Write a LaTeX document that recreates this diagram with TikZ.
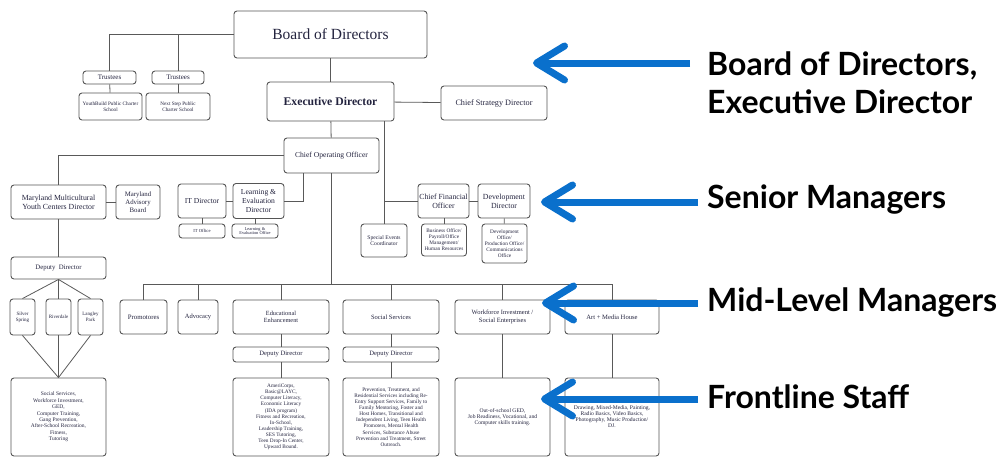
\documentclass[tikz,border=0pt]{standalone}
\usepackage{fontspec}
\setmainfont{Liberation Serif}
\newfontfamily\tierfont{Lato}
\usetikzlibrary{arrows.meta,positioning}
\definecolor{boxline}{RGB}{85,85,85}
\definecolor{boxtext}{RGB}{35,35,62}
\definecolor{pointer}{RGB}{10,112,204}
\tikzset
{
    orgbox/.style 2 args = {rectangle, rounded corners=3pt, draw=boxline, line width=0.9pt, align=center, text=boxtext, inner sep=1pt, minimum width=#1, minimum height=#2},
    sz/.style 2 args     = {font=\fontsize{#1}{#2}\selectfont},
    link/.style          = {draw=black!65, line width=0.8pt},
    hv/.style            = {to path={-| (\tikztotarget)}},
    vh/.style            = {to path={|- (\tikztotarget)}},
    tier/.style          = {anchor=west, align=left, inner sep=0pt, font=\tierfont\bfseries\fontsize{32}{38}\selectfont},
    pointer/.style       = {draw=pointer, line width=7pt, -{Straight Barb[length=28pt,width=34pt,round]}}
}

\begin{document}
\begin{tikzpicture}[x=1pt, y=-1pt]
   \useasboundingbox (0,0) rectangle (1001,461);

   %% top: board, trustees, executive
   \node (board)     [orgbox={193pt}{47pt}, sz={15.5}{18}]   at (330.5, 34.5)  {Board of Directors};
   \node (trusteeA)  [orgbox={53pt}{13pt},  sz={7}{8}]       at (109.5, 77.5)  {Trustees};
   \node (trusteeB)  [orgbox={52pt}{13pt},  sz={7}{8}]       at (178, 77.5)    {Trustees};
   \node (schoolA)   [orgbox={63pt}{27pt},  sz={5.2}{6}]     at (110.5, 106.5) {YouthBuild Public Charter\\School};
   \node (schoolB)   [orgbox={64pt}{27pt},  sz={5.2}{6}]     at (178, 106.5)   {Next Step Public\\Charter School};
   \node (exec)      [orgbox={127pt}{39pt}, sz={11.7}{14}]   at (330.5, 101.5) {\bfseries Executive Director};
   \node (strategy)  [orgbox={106pt}{34pt}, sz={8.2}{10}]    at (494, 103)     {Chief Strategy Director};
   \node (coo)       [orgbox={95pt}{35pt},  sz={7.6}{9}]     at (331.5, 155.5) {Chief Operating Officer};

   %% senior managers
   \node (mmyc)      [orgbox={95pt}{34pt},  sz={7.8}{9}]     at (58.5, 202)    {Maryland Multicultural\\Youth Centers Director};
   \node (advisory)  [orgbox={44pt}{34pt},  sz={6.8}{7.8}]   at (138, 202)     {Maryland\\Advisory\\Board};
   \node (itdir)     [orgbox={48pt}{34pt},  sz={7.6}{9}]     at (202, 201)     {IT Director};
   \node (led)       [orgbox={51pt}{35pt},  sz={7.6}{8.6}]   at (258.5, 201)   {Learning \&\\Evaluation\\Director};
   \node (itoffice)  [orgbox={46pt}{14pt},  sz={4.6}{5}]     at (202, 231)     {IT Office};
   \node (leoffice)  [orgbox={46pt}{14pt},  sz={4.4}{4.8}]   at (255, 231)     {Learning \&\\Evaluation Office};
   \node (cfo)       [orgbox={51pt}{34pt},  sz={7.8}{9}]     at (443.5, 201)   {Chief Financial\\Officer};
   \node (devdir)    [orgbox={52pt}{34pt},  sz={7.8}{9}]     at (504, 201)     {Development\\Director};
   \node (special)   [orgbox={46pt}{33pt},  sz={5.6}{6.2}]   at (384, 240.5)   {Special Events\\Coordinator};
   \node (business)  [orgbox={45pt}{32pt},  sz={5.3}{5.9}]   at (444, 240)     {Business Office/\\Payroll/Office\\Management/\\Human Resources};
   \node (devoffice) [orgbox={45pt}{39pt},  sz={5.3}{5.9}]   at (504.5, 243.5) {Development\\Office/\\Production Office/\\Communications\\Office};

   %% youth centers column
   \node (deputyL)   [orgbox={95pt}{22pt},  sz={6.8}{8}]     at (58.5, 268)    {Deputy\ \ Director};
   \node (silver)    [orgbox={25pt}{36pt},  sz={5}{5.8}]     at (22.5, 317)    {Silver\\Spring};
   \node (riverdale) [orgbox={25pt}{36pt},  sz={5}{5.8}]     at (58.5, 317)    {Riverdale};
   \node (langley)   [orgbox={25pt}{36pt},  sz={5}{5.8}]     at (90.5, 317)    {Langley\\Park};
   \node (bigL)      [orgbox={95pt}{78pt},  sz={5.5}{6.4}]   at (58.5, 417)    {Social Services,\\Workforce Investment,\\GED,\\Computer Training,\\Gang Prevention,\\After-School Recreation,\\Fitness,\\Tutoring};

   %% mid-level managers
   \node (promotores)[orgbox={47pt}{34pt},  sz={6.8}{8}]     at (143.5, 317)   {Promotores};
   \node (advocacy)  [orgbox={40pt}{34pt},  sz={6.5}{8}]     at (198, 317)     {Advocacy};
   \node (edu)       [orgbox={96pt}{34pt},  sz={6.3}{7.4}]   at (281, 317)     {Educational\\Enhancement};
   \node (social)    [orgbox={96pt}{34pt},  sz={6.5}{8}]     at (391, 317)     {Social Services};
   \node (workforce) [orgbox={95pt}{34pt},  sz={6.5}{7.6}]   at (502.5, 317)   {Workforce Investment /\\Social Enterprises};
   \node (art)       [orgbox={94pt}{34pt},  sz={6.6}{8}]     at (612, 317)     {Art + Media House};
   \node (deputyE)   [orgbox={96pt}{15pt},  sz={6.6}{8}]     at (281, 354.5)   {Deputy Director};
   \node (deputyS)   [orgbox={96pt}{15pt},  sz={6.6}{8}]     at (391, 354.5)   {Deputy Director};

   %% frontline staff
   \node (eduBig)    [orgbox={96pt}{78pt},  sz={5.3}{6.1}]   at (281, 417)     {AmeriCorps,\\Basic@LAYC,\\Computer Literacy,\\Economic Literacy\\(IDA program)\\Fitness and Recreation,\\In-School,\\Leadership Training,\\SES Tutoring,\\Teen Drop-In Center,\\Upward Bound.};
   \node (socialBig) [orgbox={96pt}{78pt},  sz={5.3}{6.1}]   at (391, 417)     {Prevention, Treatment, and\\Residential Services including Re-\\Entry Support Services, Family to\\Family Mentoring, Foster and\\Host Homes, Transitional and\\Independent Living, Teen Health\\Promoters, Mental Health\\Services, Substance Abuse\\Prevention and Treatment, Street\\Outreach.};
   \node (workBig)   [orgbox={95pt}{78pt},  sz={5.6}{5.8}]   at (502.5, 417)   {Out-of-school GED,\\Job Readiness, Vocational, and\\Computer skills training.};
   \node (artBig)    [orgbox={94pt}{78pt},  sz={5.6}{6}]     at (612, 417)     {Drawing, Mixed-Media, Painting,\\Radio Basics, Video Basics,\\Photography, Music Production/\\DJ.};

   \coordinate (bus) at (331.5, 284);

   \path[link]
      (board.west)                edge[hv]  (trusteeA)
      (board.west)                edge[hv]  (trusteeB)
      (trusteeA)                  edge      (schoolA)
      (trusteeB)                  edge      (schoolB)
      (board)                     edge      (exec)
      (exec)                      edge      (strategy)
      (exec)                      edge      (coo)
      (exec.south -| special)     edge      (special)
      (cfo.west)                  edge      (cfo.west -| special)
      (cfo)                       edge      (devdir)
      (business.north)            edge      (business.north |- cfo.south)
      (devdir)                    edge      (devoffice)
      (coo.west)                  edge[hv]  (mmyc)
      (mmyc)                      edge      (advisory)
      ([xshift=-28.5pt]coo.south) edge[vh]  (led.east)
      (itdir)                     edge      (led)
      (itdir)                     edge      (itoffice)
      (leoffice.north)            edge      (leoffice.north |- led.south)
      (mmyc)                      edge      (deputyL)
      (deputyL.south)             edge      (silver.north)
      (deputyL)                   edge      (riverdale)
      (deputyL.south)             edge      (langley.north)
      (silver.south)              edge      (bigL.north)
      (riverdale)                 edge      (bigL)
      (langley.south)             edge      (bigL.north)
      (coo)                       edge      (bus)
      (bus)                       edge[hv]  (promotores)
      (bus)                       edge[hv]  (advocacy)
      (bus)                       edge[hv]  (edu)
      (bus)                       edge[hv]  (social)
      (bus)                       edge[hv]  (workforce)
      (bus)                       edge[hv]  (art)
      (edu)                       edge      (deputyE)
      (deputyE)                   edge      (eduBig)
      (social)                    edge      (deputyS)
      (deputyS)                   edge      (socialBig)
      (workforce)                 edge      (workBig)
      (art)                       edge      (artBig);

   %% tiers with pointers
   \node (tierBoard)    [tier] at (707, 83)  {Board of Directors,\\Executive Director};
   \node (tierSenior)   [tier] at (707, 200) {Senior Managers};
   \node (tierMid)      [tier] at (707, 302) {Mid-Level Managers};
   \node (tierFront)    [tier] at (707, 397) {Frontline Staff};

   \coordinate (tipBoard)  at (533, 63);
   \coordinate (tipSenior) at (541, 202);
   \coordinate (tipMid)    at (542, 303);
   \coordinate (tipFront)  at (541, 399);

   \draw[pointer] ([xshift=-17pt]tierBoard.west |- tipBoard)  -- (tipBoard);
   \draw[pointer] ([xshift=-9pt]tierSenior.west |- tipSenior) -- (tipSenior);
   \draw[pointer] ([xshift=-9pt]tierMid.west |- tipMid)       -- (tipMid);
   \draw[pointer] ([xshift=-9pt]tierFront.west |- tipFront)   -- (tipFront);
\end{tikzpicture}
\end{document}
